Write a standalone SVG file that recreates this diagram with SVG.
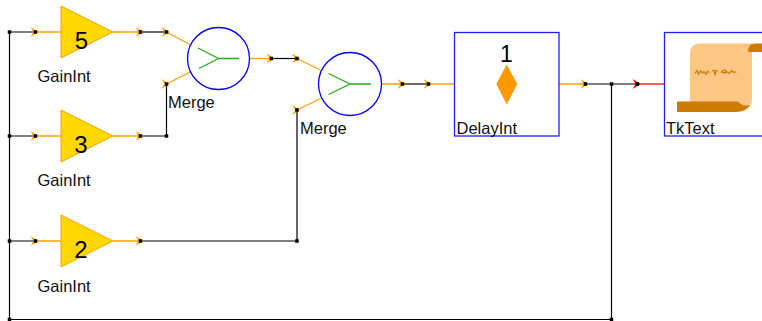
<svg xmlns="http://www.w3.org/2000/svg" xmlns:xlink="http://www.w3.org/1999/xlink" width="762" height="321" viewBox="0 0 762 321">
<style>
.lbl{font-family:"Liberation Sans",Arial,sans-serif;font-size:16.5px;fill:#111}
.num{font-family:"Liberation Sans",Arial,sans-serif;font-size:24px;fill:#000;text-anchor:middle}
.gain{fill:#ffd700;stroke:#ffa000;stroke-width:1}
.merge{fill:#fff;stroke:#0000ff;stroke-width:1.3}
.box{fill:#fff;stroke:#2020ff;stroke-width:1.3}
.grn{fill:none;stroke:#22aa22;stroke-width:1.3}
.rel{fill:none;stroke:#000;stroke-width:1.2}
.port{fill:none;stroke:#ffa000;stroke-width:1.3}
.portr{fill:none;stroke:#ff0000;stroke-width:1.3}
.chev{fill:#ffa000}
.chevr{fill:#ff0000}
.dot{fill:#000}
</style>
<defs>
<path id="chev" d="M-5,-5 L3,0 L-5,5 L-2,0 Z"/>
<rect id="dot" x="-1.75" y="-1.75" width="3.5" height="3.5"/>
</defs>
<g id="connectors">
<path class="rel" d="M9.5,32 V319.5 H611.5 V84"/>
<path class="rel" d="M9.5,32 H35.5 M9.5,136 H35.5 M9.5,241 H35.5"/>
<path class="rel" d="M140.5,32 H166.5"/>
<path class="rel" d="M140.5,136 H166.5 V84"/>
<path class="rel" d="M140.5,241 H297 V110"/>
<path class="rel" d="M271.5,58.5 H297"/>
<path class="rel" d="M402.5,84 H428.5"/>
<path class="rel" d="M585.5,84 H637.5"/>
<path class="port" d="M35.5,32 H61 M35.5,136 H61 M35.5,241 H61"/>
<path class="port" d="M113,32 H140.5 M113,136 H140.5 M113,241 H140.5"/>
<path class="port" d="M166.5,32 L190,44.5 M166.5,84 L190,72"/>
<path class="port" d="M249.5,58.5 H271.5"/>
<path class="port" d="M297,58.5 L321.5,70.5 M297,110 L321.5,98"/>
<path class="port" d="M381.5,84 H402.5 M428.5,84 H454.5 M559,84 H585.5"/>
<path class="portr" d="M637.5,84 H664.5"/>
<g class="chev">
<use xlink:href="#chev" x="35.5" y="32"/>
<use xlink:href="#chev" x="35.5" y="136"/>
<use xlink:href="#chev" x="35.5" y="241"/>
<use xlink:href="#chev" x="140.5" y="32"/>
<use xlink:href="#chev" x="140.5" y="136"/>
<use xlink:href="#chev" x="140.5" y="241"/>
<use xlink:href="#chev" x="166.5" y="32"/>
<use xlink:href="#chev" x="166.5" y="84"/>
<use xlink:href="#chev" x="271.5" y="58.5"/>
<use xlink:href="#chev" x="297" y="58.5"/>
<use xlink:href="#chev" x="297" y="110"/>
<use xlink:href="#chev" x="402.5" y="84"/>
<use xlink:href="#chev" x="428.5" y="84"/>
<use xlink:href="#chev" x="585.5" y="84"/>
</g>
<use class="chevr" xlink:href="#chev" x="637.5" y="84"/>
<g class="dot">
<use xlink:href="#dot" x="9.5" y="32"/>
<use xlink:href="#dot" x="35.5" y="32"/>
<use xlink:href="#dot" x="140.5" y="32"/>
<use xlink:href="#dot" x="166.5" y="32"/>
<use xlink:href="#dot" x="9.5" y="136"/>
<use xlink:href="#dot" x="35.5" y="136"/>
<use xlink:href="#dot" x="140.5" y="136"/>
<use xlink:href="#dot" x="166.5" y="136"/>
<use xlink:href="#dot" x="166.5" y="84"/>
<use xlink:href="#dot" x="9.5" y="241"/>
<use xlink:href="#dot" x="35.5" y="241"/>
<use xlink:href="#dot" x="140.5" y="241"/>
<use xlink:href="#dot" x="297" y="241"/>
<use xlink:href="#dot" x="297" y="110"/>
<use xlink:href="#dot" x="271.5" y="58.5"/>
<use xlink:href="#dot" x="297" y="58.5"/>
<use xlink:href="#dot" x="402.5" y="84"/>
<use xlink:href="#dot" x="428.5" y="84"/>
<use xlink:href="#dot" x="585.5" y="84"/>
<use xlink:href="#dot" x="611.5" y="84"/>
<use xlink:href="#dot" x="637.5" y="84"/>
<use xlink:href="#dot" x="611.5" y="319.5"/>
<use xlink:href="#dot" x="9.5" y="319.5"/>
</g>
</g>
<g id="gain5">
<polygon class="gain" points="61,6 113,32 61,58"/>
<text class="num" x="81.5" y="48.5">5</text>
<text class="lbl" x="37.5" y="82">GainInt</text>
</g>
<g id="gain3">
<polygon class="gain" points="61,110 113,136 61,162"/>
<text class="num" x="81" y="152.5">3</text>
<text class="lbl" x="37.5" y="186">GainInt</text>
</g>
<g id="gain2">
<polygon class="gain" points="61,215 113,241 61,267"/>
<text class="num" x="81" y="257.5">2</text>
<text class="lbl" x="37.5" y="291.5">GainInt</text>
</g>
<g id="merge1">
<circle class="merge" cx="218.5" cy="58.5" r="31"/>
<path class="grn" d="M198,48 L218.5,58.5 L199,68.5 M218.5,58.5 H239"/>
<text class="lbl" x="168" y="108">Merge</text>
</g>
<g id="merge2">
<circle class="merge" cx="350" cy="84" r="31.5"/>
<path class="grn" d="M328.5,73.5 L350,84 L328.5,94.5 M350,84 H371"/>
<text class="lbl" x="300" y="134">Merge</text>
</g>
<g id="delay">
<rect class="box" x="454.5" y="32.5" width="104.5" height="103.5"/>
<text class="num" x="506.5" y="61.5" style="font-size:23px">1</text>
<polygon points="506.7,64.5 517.3,84 506.7,104.5 496.3,84" fill="#ff9900"/>
<text class="lbl" x="456.5" y="134">DelayInt</text>
</g>
<g id="tktext">
<rect class="box" x="664.5" y="32.5" width="104.5" height="103.5"/>
<path d="M700,43.5 L752,43.5 L752,99 Q752,109.5 742,109.5 L690,109.5 L690,53.5 Q690,43.5 700,43.5 Z" fill="#fec685"/>
<path d="M748,52 Q748,43.5 755,43.5 L762,43.5 L762,52 Z" fill="#cc7a00"/>
<path d="M677,101.5 L738,101.5 Q742,107 750,105 Q746,112 736,112 L677,112 Z" fill="#cc7a00"/>
<path d="M695,73.5 l2,-3 l1.5,4 l2,-3.5 l2,2 l1.5,-1.5 l2,3 l1.5,-3 l2,1 M712,70.5 l2,0 l1,5 l1,-5 l2,0.5 M721,72.5 l2,-2 q2.5,-1.5 3.5,1 q-1,2.5 -3.5,1 l4.5,-0.5 l2,1.5 l2,-3 l2,2 q1.5,-1.5 2.5,0" fill="none" stroke="#c87400" stroke-width="1.1"/>
<text class="lbl" x="666" y="134">TkText</text>
</g>
</svg>
